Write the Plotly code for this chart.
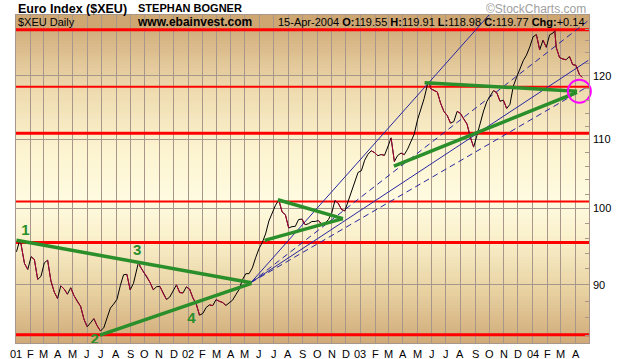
import math
import plotly.graph_objects as go
import pandas as pd

# ---------------- data ----------------
week_dates = list(pd.date_range("2001-01-05", "2004-04-09", freq="W-FRI").strftime("%Y-%m-%d"))
dates = ["2001-01-02"] + week_dates + ["2004-04-15"]
closes = [94.2,
    94.93, 95.07, 92.70, 91.94, 93.57, 93.20, 90.68, 91.08, 92.78, 93.13,
    90.50, 89.14, 88.34, 89.89, 89.50, 88.86, 89.65, 88.68, 87.96, 87.38,
    85.85, 84.96, 85.44, 85.92, 85.08, 84.48, 84.84, 85.94, 87.18, 87.66,
    88.24, 89.90, 91.27, 91.33, 89.40, 90.20, 92.20, 92.33, 91.65, 91.08,
    90.32, 89.40, 89.78, 89.82, 88.93, 88.21, 88.52, 89.27, 90.01, 89.06,
    89.02, 89.76, 89.48, 88.40, 87.68, 86.33, 86.54, 87.25, 87.56, 87.48,
    88.20, 88.00, 87.85, 87.50, 87.78, 88.13, 88.81, 89.46, 90.66, 91.40,
    91.42, 92.14, 93.45, 94.60, 95.42, 96.55, 98.28, 99.41, 100.44, 101.16,
    99.52, 99.13, 97.34, 97.52, 97.56, 98.48, 98.54, 97.77, 97.92, 98.21,
    98.22, 98.34, 97.84, 97.97, 98.46, 99.30, 101.10, 100.71, 99.84, 99.66,
    100.96, 102.46, 103.86, 105.08, 105.32, 106.86, 107.74, 108.26, 107.98, 107.52,
    107.70, 107.58, 108.82, 110.20, 106.66, 107.57, 107.91, 107.68, 108.50, 109.55,
    110.76, 112.96, 114.70, 116.31, 118.56, 117.92, 117.60, 117.38, 115.57, 114.28,
    113.64, 112.45, 112.70, 114.29, 113.97, 113.06, 112.31, 110.30, 108.80, 110.58,
    112.63, 114.34, 115.86, 116.63, 117.60, 117.27, 115.89, 116.07, 114.75, 115.41,
    118.30, 119.77, 121.05, 122.53, 123.50, 124.89, 126.65, 127.04, 124.38, 126.06,
    124.83, 126.98, 127.30, 124.83, 123.08, 122.84, 122.70, 123.28, 121.89, 121.76,
    120.26,
    119.77]
# a few intra-week extremes
extra_dates = ["2001-01-09", "2001-09-18", "2003-05-27", "2004-02-17"]
extra_closes = [95.75, 92.95, 118.9, 127.7]

month_ticks = list(pd.date_range("2001-01-01", "2004-04-01", freq="MS").strftime("%Y-%m-%d"))
month_labels = ["01", "F", "M", "A", "M", "J", "J", "A", "S", "O", "N", "D",
                "02", "F", "M", "A", "M", "J", "J", "A", "S", "O", "N", "D",
                "03", "F", "M", "A", "M", "J", "J", "A", "S", "O", "N", "D",
                "04", "F", "M", "A"]
price_ticks = [90, 100, 110, 120]
minor_ticks = [v for v in range(84, 130, 2) if v not in price_ticks]

# horizontal support/resistance levels
red_levels = [127.9, 118.25, 110.9, 100.97, 95.4, 84.04]
red_widths = [3, 2, 3, 2, 3, 3]

# green trend lines: start date, start value, end date, end value
green_x0 = ["2001-01-02", "2001-06-28", "2002-07-10", "2002-06-12", "2003-05-17", "2003-03-13"]
green_y0 = [95.7, 84.0, 101.2, 95.7, 118.9, 106.0]
green_x1 = ["2002-05-15", "2002-05-15", "2002-11-25", "2002-11-25", "2004-04-04", "2004-04-04"]
green_y1 = [90.28, 90.2, 98.6, 98.6, 117.5, 117.3]

# blue fan lines from the May-2002 pivot
fan_x0 = ["2002-05-14", "2002-05-14", "2002-05-14", "2002-05-14"]
fan_y0 = [90.3, 90.3, 90.3, 90.3]
fan_x1 = ["2003-10-29", "2004-04-28", "2004-04-28", "2004-04-28"]
fan_y1 = [133.25, 129.5, 122.6, 118.3]
fan_dash = ["solid", "6px,4px", "solid", "6px,4px"]

wave_labels = ["1", "2", "3", "4"]
wave_x = ["2001-01-21", "2001-06-17", "2001-09-15", "2002-01-08"]
wave_y = [96.85, 83.35, 94.3, 85.9]

circle_x = ["2004-04-09"]
circle_y = [117.5]

x_range = ["2001-01-01", "2004-04-29 12:00"]

series = sorted(zip(dates + extra_dates, closes + extra_closes))
s_dates = [d for d, _ in series]
s_vals = [v for _, v in series]

# ---------------- figure ----------------
fig = go.Figure()

PLOT_TOP, PLOT_BOT = 15, 343
H = PLOT_BOT - PLOT_TOP
PLOT_L, PLOT_R = 16, 589
W = PLOT_R - PLOT_L
stops = [(29, (210, 174, 124)), (90, (238, 218, 174)), (150, (252, 244, 208)),
         (200, (255, 251, 224)), (240, (249, 239, 202)), (290, (233, 210, 162)),
         (343, (208, 170, 120))]


def col_at(y):
    for (ya, ca), (yb, cb) in zip(stops[:-1], stops[1:]):
        if ya <= y <= yb:
            t = (y - ya) / (yb - ya)
            c = [round(ca[k] + t * (cb[k] - ca[k])) for k in range(3)]
            return "rgb(%d,%d,%d)" % tuple(c)
    return "rgb(%d,%d,%d)" % stops[-1][1]


def py(y):
    return (PLOT_BOT - y) / H


def px(x):
    return (x - PLOT_L) / W


shapes = []
y = 29
while y < PLOT_BOT:
    y2 = min(y + 3, PLOT_BOT)
    shapes.append(dict(type="rect", xref="paper", yref="paper", x0=0, x1=1,
                       y0=py(y2), y1=py(y), fillcolor=col_at(y + 1.5),
                       line=dict(width=0), layer="below"))
    y = y2
shapes.append(dict(type="rect", xref="paper", yref="paper", x0=0, x1=1,
                   y0=py(29), y1=1, fillcolor="rgb(205,166,114)",
                   line=dict(width=0), layer="below"))

for lv, w in zip(red_levels, red_widths):
    fig.add_trace(go.Scatter(x=x_range, y=[lv, lv], mode="lines",
                             line=dict(color="#FF0000", width=w),
                             hoverinfo="skip", showlegend=False))

for a, b, c, d, ds in zip(fan_x0, fan_y0, fan_x1, fan_y1, fan_dash):
    fig.add_trace(go.Scatter(x=[a, c], y=[b, d], mode="lines",
                             line=dict(color="#2828A0", width=1, dash=ds),
                             hoverinfo="skip", showlegend=False))

fig.add_trace(go.Scatter(x=s_dates, y=s_vals, mode="lines",
                         line=dict(color="#000000", width=1),
                         hoverinfo="skip", showlegend=False))
dx, dy = [], []
for i in range(1, len(s_vals)):
    if s_vals[i] < s_vals[i - 1]:
        dx += [s_dates[i - 1], s_dates[i], None]
        dy += [s_vals[i - 1], s_vals[i], None]
fig.add_trace(go.Scatter(x=dx, y=dy, mode="lines",
                         line=dict(color="#B0003A", width=1),
                         hoverinfo="skip", showlegend=False))

for a, b, c, d in zip(green_x0, green_y0, green_x1, green_y1):
    fig.add_trace(go.Scatter(x=[a, c], y=[b, d], mode="lines",
                             line=dict(color="#2A8F2A", width=3.5),
                             hoverinfo="skip", showlegend=False))

fig.add_trace(go.Scatter(x=wave_x, y=wave_y, mode="text",
                         text=["<b>%s</b>" % t for t in wave_labels],
                         textfont=dict(family="Arial", size=15, color="#2A8F2A"),
                         cliponaxis=False, hoverinfo="skip", showlegend=False))

fig.add_trace(go.Scatter(x=circle_x, y=circle_y, mode="markers",
                         marker=dict(symbol="circle-open", size=23, color="#FF00FF",
                                     line=dict(width=2, color="#FF00FF")),
                         cliponaxis=False, hoverinfo="skip", showlegend=False))

grid = "#A8968A"
fig.update_layout(
    width=620, height=359, autosize=False,
    margin=dict(l=PLOT_L, r=620 - PLOT_R, t=PLOT_TOP, b=359 - PLOT_BOT, pad=0,
                autoexpand=False),
    paper_bgcolor="white", plot_bgcolor="rgba(0,0,0,0)",
    shapes=shapes, hovermode=False,
    font=dict(family="Arial", size=11, color="black"),
    xaxis=dict(type="date", range=x_range, tickmode="array", tickvals=month_ticks,
               showticklabels=False, showgrid=True, gridcolor=grid, gridwidth=1,
               ticks="", showline=True, linecolor=grid, mirror=True, zeroline=False,
               automargin=False),
    yaxis=dict(type="log", side="right", range=[1.91954, 2.11562], tickmode="array",
               tickvals=price_ticks, showticklabels=False,
               showgrid=True, gridcolor=grid, gridwidth=1, ticks="inside", ticklen=4,
               tickcolor=grid, showline=True, linecolor=grid, mirror=True,
               zeroline=False, automargin=False,
               minor=dict(tickmode="array", tickvals=minor_ticks, ticks="inside",
                          ticklen=4, tickcolor=grid, showgrid=False)),
)

ann = [
    dict(text="<b>Euro Index ($XEU)</b>", x=px(17), y=py(9), xanchor="left",
         font=dict(size=12.5, color="black")),
    dict(text="<b>STEPHAN BOGNER</b>", x=px(137), y=py(8), xanchor="left",
         font=dict(size=11, color="black")),
    dict(text="©StockCharts.com", x=px(587.3), y=py(8.5), xanchor="right",
         font=dict(size=12, color="#A0A0A0")),
    dict(text="$XEU Daily", x=px(17.3), y=py(22), xanchor="left",
         font=dict(size=11, color="black")),
    dict(text="<b>www.ebainvest.com</b>", x=px(136), y=py(22), xanchor="left",
         font=dict(size=12, color="black")),
    dict(text="15-Apr-2004 <b>O:</b>119.55 <b>H:</b>119.91 <b>L:</b>118.98 <b>C:</b>119.77 <b>Chg:</b>+0.14",
         x=px(586), y=py(22.5), xanchor="right",
         font=dict(size=11, color="black")),
]
for a in ann:
    a.update(xref="paper", yref="paper", yanchor="middle")

for d, t in zip(month_ticks, month_labels):
    ann.append(dict(text=t, x=d, xref="x", y=py(353.5), yref="paper",
                    xanchor="center", yanchor="middle",
                    font=dict(size=11, color="black")))
for v in price_ticks:
    ann.append(dict(text=str(v), x=px(591.5), xref="paper", y=math.log10(v), yref="y",
                    xanchor="left", yanchor="middle",
                    font=dict(size=11, color="black")))

for a in ann:
    a.update(showarrow=False, borderpad=0)
    a["font"]["family"] = "Arial"
fig.update_layout(annotations=ann)

fig.write_html("out.html", config={"displayModeBar": False, "staticPlot": True},
               post_script="document.body.style.margin='0';document.body.style.padding='0';")
